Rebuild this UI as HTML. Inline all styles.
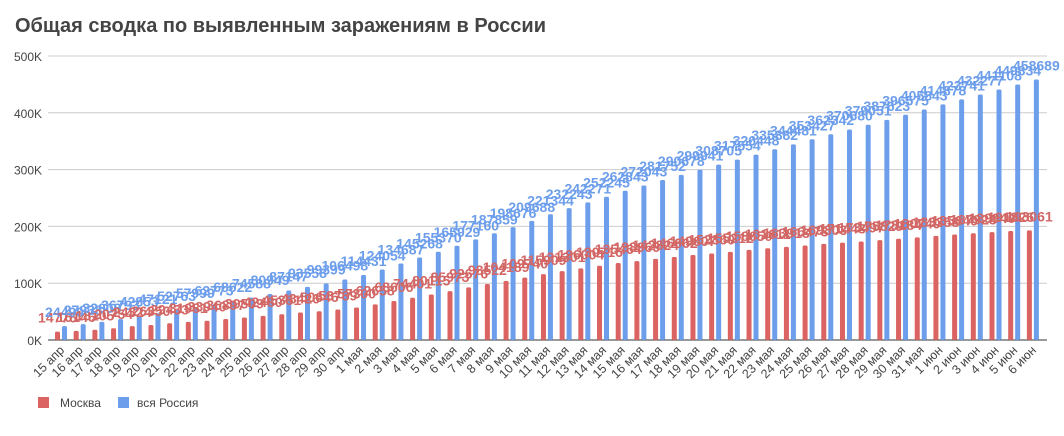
<!DOCTYPE html>
<html><head><meta charset="utf-8"><style>
body{margin:0;background:#fff;width:1064px;height:431px;overflow:hidden;font-family:"Liberation Sans",sans-serif}
</style></head><body>
<svg id="c" width="1064" height="431">
<text x="15" y="32" font-size="20" font-weight="bold" fill="#444">Общая сводка по выявленным заражениям в России</text>
<g id="grid"></g><g id="bars"></g><g id="lbl"></g><g id="xl"></g>
<g>
<rect x="38" y="397" width="11" height="11" fill="#db6361"/>
<text x="60" y="407" font-size="12" fill="#444">Москва</text>
<rect x="118" y="397" width="11" height="11" fill="#6d9eeb"/>
<text x="137" y="407" font-size="12" fill="#444">вся Россия</text>
</g>
</svg>
<script>
const dates=["15 апр","16 апр","17 апр","18 апр","19 апр","20 апр","21 апр","22 апр","23 апр","24 апр","25 апр","26 апр","27 апр","28 апр","29 апр","30 апр","1 мая","2 мая","3 мая","4 мая","5 мая","6 мая","7 мая","8 мая","9 мая","10 мая","11 мая","12 мая","13 мая","14 мая","15 мая","16 мая","17 мая","18 мая","19 мая","20 мая","21 мая","22 мая","23 мая","24 мая","25 мая","26 мая","27 мая","28 мая","29 мая","30 мая","31 мая","1 июн","2 июн","3 июн","4 июн","5 июн","6 июн"];
const moscow=[14776,16146,18105,20754,24324,26350,29433,31981,33940,36897,39509,42480,45351,48426,50646,53739,57300,62658,68606,74401,80115,85973,92676,98522,104189,109740,115909,121301,126004,130716,135464,138969,142824,146062,149607,152360,155212,158650,161611,163913,166473,169303,171443,173497,175829,178184,180740,183353,185640,187923,189940,191826,193061];
const russia=[24490,27938,32008,36793,42853,47121,52763,57999,62773,68622,74588,80949,87147,93558,99399,106498,114431,124054,134687,145268,155370,165929,177160,187859,198676,209688,221344,232243,242271,252245,262843,272043,281752,290678,299941,308705,317554,326448,335882,344481,353427,362342,370680,379051,387623,396575,405843,414878,423741,432277,441108,449834,458689];
const yTicks=[0,100000,200000,300000,400000,500000];
const yTickLabels=["0K","100K","200K","300K","400K","500K"];
const NS="http://www.w3.org/2000/svg";
const y0=340,pxPer=56.8/100000,x0=61,step=18.69;
const Y=v=>y0-v*pxPer;const X=i=>x0+i*step;
function mk(t,a,p){const e=document.createElementNS(NS,t);for(const k in a)e.setAttribute(k,a[k]);p.appendChild(e);return e;}
const g=document.getElementById('grid');
yTicks.forEach((v,i)=>{
 const l=mk('line',{x1:48,x2:1047,y1:Y(v),y2:Y(v),stroke:i?'#ccc':'#333','stroke-width':1},g);
 
 
 const t=mk('text',{x:42,y:Y(v)+5,'text-anchor':'end','font-size':12,fill:'#444'},g);t.textContent=yTickLabels[i];
 
 
});
const b=document.getElementById('bars'),lb=document.getElementById('lbl'),xl=document.getElementById('xl');
dates.forEach((d,i)=>{
 const cx=X(i);
 const r=mk('rect',{x:cx-6,y:Y(moscow[i]),width:5,height:y0-Y(moscow[i]),fill:'#db6361',rx:1.5},b);
 
 
 const r2=mk('rect',{x:cx+1,y:Y(russia[i]),width:5,height:y0-Y(russia[i]),fill:'#6d9eeb',rx:1.5},b);
 
 
 const t1=mk('text',{x:cx-3.5,y:Y(moscow[i])-9,'text-anchor':'middle','font-size':14,'font-weight':600,fill:'#d26765'},lb);t1.textContent=moscow[i];
 
 
 const t2=mk('text',{x:cx+3.5,y:Y(russia[i])-9,'text-anchor':'middle','font-size':14,'font-weight':600,fill:'#6d9eeb'},lb);t2.textContent=russia[i];
 
 
 const tx=mk('text',{x:cx+4,y:351,'text-anchor':'end','font-size':12.5,fill:'#444',transform:`rotate(-45 ${cx+4} 351)`},xl);tx.textContent=d;
 
 
});
</script>
</body></html>
